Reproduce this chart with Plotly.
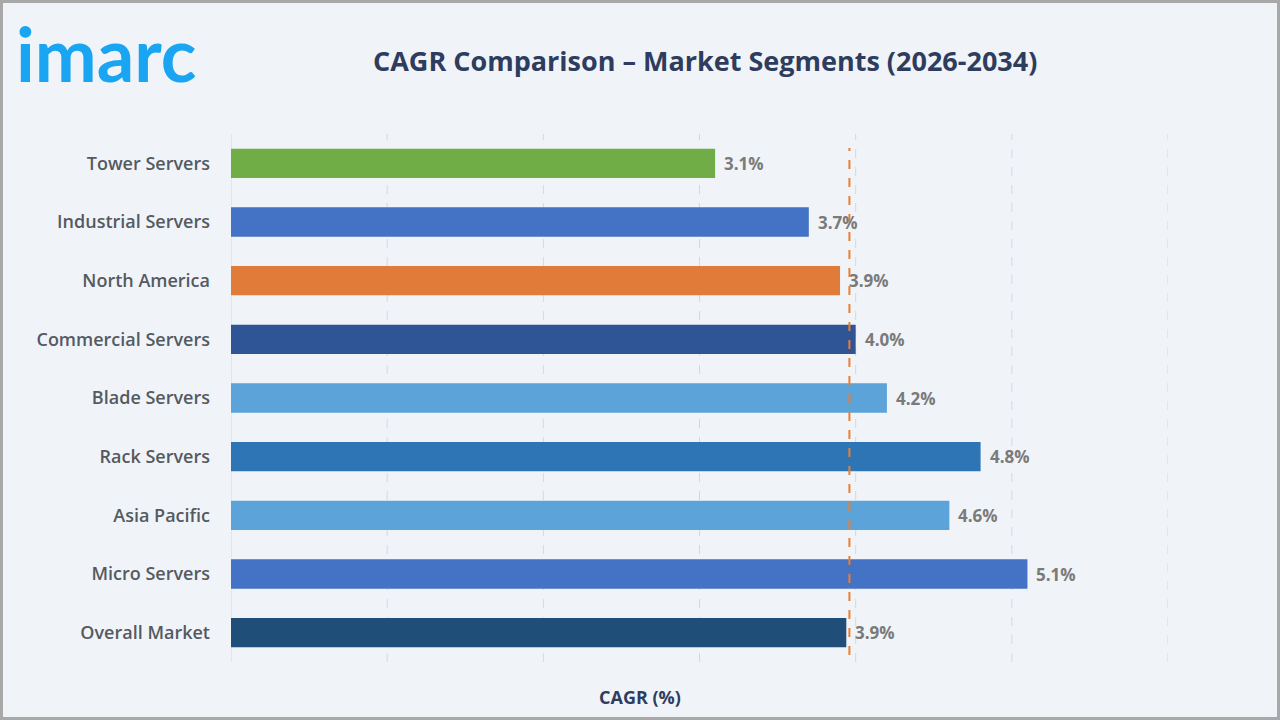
import plotly.graph_objects as go

categories = ["Tower Servers", "Industrial Servers", "North America", "Commercial Servers",
              "Blade Servers", "Rack Servers", "Asia Pacific", "Micro Servers", "Overall Market"]
values = [3.1, 3.7, 3.9, 4.0, 4.2, 4.8, 4.6, 5.1, 3.94]
labels = ["3.1%", "3.7%", "3.9%", "4.0%", "4.2%", "4.8%", "4.6%", "5.1%", "3.9%"]
colors = ["#70AD47", "#4472C4", "#E07B39", "#2F5597", "#5BA3D9", "#2E75B6", "#5BA3D9", "#4472C4", "#1F4E79"]
reference_value = 3.96
x_ticks = [0, 1, 2, 3, 4, 5, 6]

W, H = 1280, 720
L, R, T, B = 231, 112, 134, 58
pw, ph = W - L - R, H - T - B

def px(x):
    return (x - L) / pw

def py(y):
    return (H - B - y) / ph

fig = go.Figure()

# grid lines at tick positions
for t in x_ticks:
    fig.add_shape(type="line", xref="x", yref="paper", x0=t, x1=t, y0=0, y1=1,
                  line=dict(color="#D3D8E0", width=1, dash="solid" if t == 0 else "dash"),
                  layer="below")

fig.add_trace(go.Bar(
    x=values, y=categories, orientation="h",
    marker=dict(color=colors, line=dict(width=0)),
    width=0.5, hoverinfo="skip",
))

for v, c, t in zip(values, categories, labels):
    fig.add_annotation(x=v, y=c, xref="x", yref="y", text=t, showarrow=False,
                       xanchor="left", xshift=7,
                       font=dict(family="Open Sans", size=17, color="#7A7A7A", weight=700))

fig.add_shape(type="line", xref="x", yref="paper", x0=reference_value, x1=reference_value,
              y0=py(655), y1=py(148), line=dict(color="#ED7D31", width=2, dash="dash"))

# border
fig.add_shape(type="rect", xref="paper", yref="paper", x0=px(1.5), x1=px(W - 1.5),
              y0=py(H - 1.5), y1=py(1.5), line=dict(color="#A8A8A8", width=3), layer="above")

fig.add_annotation(xref="paper", yref="paper", x=px(705), y=py(60), text="<b>CAGR Comparison – Market Segments (2026-2034)</b>",
                   showarrow=False, xanchor="center", yanchor="middle",
                   font=dict(family="Open Sans", size=27, color="#2E3D5E"))
fig.add_annotation(xref="paper", yref="paper", x=px(640), y=py(697), text="<b>CAGR (%)</b>",
                   showarrow=False, xanchor="center", yanchor="middle",
                   font=dict(family="Open Sans", size=18, color="#2E3D5E"))
fig.add_annotation(xref="paper", yref="paper", x=px(14), y=py(54), text="<b>imarc</b>",
                   showarrow=False, xanchor="left", yanchor="middle",
                   font=dict(family="Lato", size=74, color="#1AA5F2"))

fig.update_layout(
    width=W, height=H,
    margin=dict(l=L, r=R, t=T, b=B),
    paper_bgcolor="#F0F4F9", plot_bgcolor="#F0F4F9",
    showlegend=False, bargap=0.5,
    xaxis=dict(range=[0, 6], tickvals=x_ticks, showticklabels=False, showgrid=False,
               zeroline=False, showline=False, fixedrange=True),
    yaxis=dict(categoryorder="array", categoryarray=categories[::-1], autorange=True,
               showgrid=False, zeroline=False, showline=False, ticks="",
               ticklabelstandoff=20,
               tickfont=dict(family="Open Sans", size=18, color="#555A60", weight=600)),
)

fig.write_html("out.html")
